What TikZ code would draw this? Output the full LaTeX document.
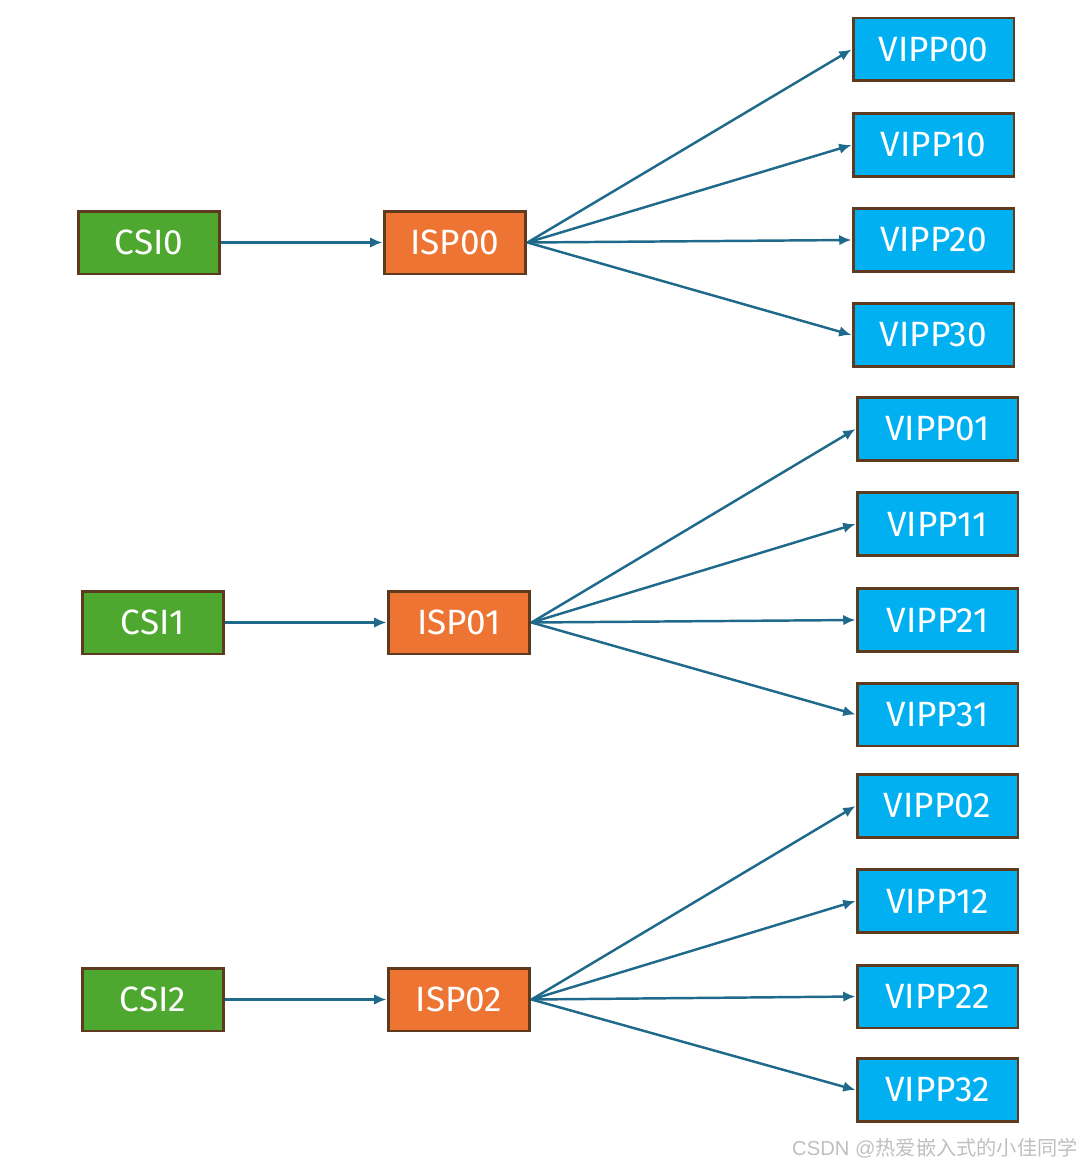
\documentclass[tikz,border=0pt]{standalone}
\usepackage{fontspec}
\setmainfont{Fira Sans}
\newfontfamily\cjkfont{Noto Sans CJK SC}
\newfontfamily\markfont{Liberation Sans}
\usetikzlibrary{arrows.meta}
\definecolor{csigreen}{HTML}{4EA72E}
\definecolor{isporange}{HTML}{ED7433}
\definecolor{vippblue}{HTML}{00B0F0}
\definecolor{boxedge}{HTML}{5E3A1E}
\definecolor{linkcol}{HTML}{1F6A8A}
\begin{document}
\begin{tikzpicture}[x=0.02cm,y=-0.02cm]
	\tikzset{every node/.style={inner sep=0pt, text=white, font=\fontsize{20}{20}\selectfont},
		blk/.style={draw=boxedge, line width=1.7pt, minimum width=2.84cm, minimum height=1.26cm},
		vblk/.style={draw=boxedge, line width=1.7pt, fill=vippblue, minimum width=3.22cm, minimum height=1.26cm},
		link/.style={draw=linkcol, line width=1.4pt, -{Latex[length=7pt,width=6pt]}}}
	\useasboundingbox (0,0) rectangle (1081,1166);
	% group 0
	\node [blk, fill=csigreen] (csi0) at (149,242.5) {CSI0};
	\node [blk, fill=isporange] (isp00) at (455,242.5) {ISP00};
	\node [vblk] (vipp00) at (933.5,49.5) {VIPP00};
	\node [vblk] (vipp10) at (933.5,145) {VIPP10};
	\node [vblk] (vipp20) at (933.5,240) {VIPP20};
	\node [vblk] (vipp30) at (933.5,335) {VIPP30};
	% group 1
	\node [blk, fill=csigreen] (csi1) at (153,622.5) {CSI1};
	\node [blk, fill=isporange] (isp01) at (459,622.5) {ISP01};
	\node [vblk] (vipp01) at (937.5,429) {VIPP01};
	\node [vblk] (vipp11) at (937.5,524) {VIPP11};
	\node [vblk] (vipp21) at (937.5,620) {VIPP21};
	\node [vblk] (vipp31) at (937.5,714.5) {VIPP31};
	% group 2
	\node [blk, fill=csigreen] (csi2) at (153,999.5) {CSI2};
	\node [blk, fill=isporange] (isp02) at (459,999.5) {ISP02};
	\node [vblk] (vipp02) at (937.5,806) {VIPP02};
	\node [vblk] (vipp12) at (937.5,901) {VIPP12};
	\node [vblk] (vipp22) at (937.5,996.5) {VIPP22};
	\node [vblk] (vipp32) at (937.5,1090) {VIPP32};
	% links
	\foreach \g in {0,1,2} {
		\draw [link] (csi\g) -- (isp0\g);
		\foreach \v in {0,1,2,3}
			\draw [link] (isp0\g.east) -- (vipp\v\g.west);
	}
	\node [anchor=east, text=black!25, font=\markfont\fontsize{11.5}{11.5}\selectfont] (mark) at (1078,1148) {CSDN @\cjkfont 热爱嵌入式的小佳同学};
\end{tikzpicture}
\end{document}
